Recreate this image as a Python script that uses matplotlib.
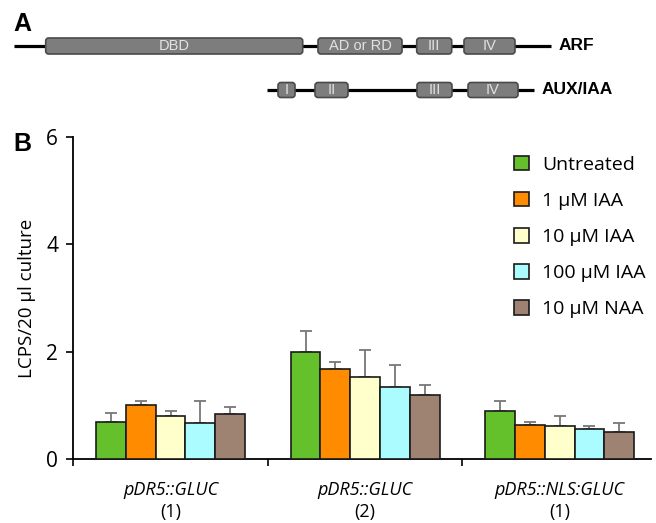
import matplotlib
matplotlib.use("Agg")
import matplotlib.pyplot as plt
from matplotlib.patches import FancyBboxPatch
import numpy as np

# ---------------- data ----------------
groups = ["pDR5::GLUC", "pDR5::GLUC", "pDR5::NLS:GLUC"]
group_sub = ["(1)", "(2)", "(1)"]
treatments = ["Untreated", "1 μM IAA", "10 μM IAA", "100 μM IAA", "10 μM NAA"]
colors = ["#64C12B", "#FF8C00", "#FFFFCC", "#AAFCFF", "#9E8272"]

untreated = [0.69, 2.00, 0.89]
iaa1 = [1.00, 1.67, 0.64]
iaa10 = [0.81, 1.53, 0.615]
iaa100 = [0.665, 1.335, 0.56]
naa10 = [0.83, 1.19, 0.50]

untreated_top = [0.86, 2.39, 1.09]
iaa1_top = [1.09, 1.81, 0.69]
iaa10_top = [0.89, 2.03, 0.81]
iaa100_top = [1.09, 1.75, 0.61]
naa10_top = [0.97, 1.385, 0.67]

yticks = [0, 2, 4, 6]

# Panel A domain map (positions along protein, drawing scale)
arf_span = (14, 551)
arf_domains = [(45.7, 302.7, "DBD"), (318, 402, "AD or RD"), (416.7, 451.7, "III"), (464, 515, "IV")]
aux_span = (266.7, 534)
aux_domains = [(278, 295, "I"), (315, 348, "II"), (417, 452, "III"), (468, 518, "IV")]

values = [untreated, iaa1, iaa10, iaa100, naa10]
tops = [untreated_top, iaa1_top, iaa10_top, iaa100_top, naa10_top]

W, H = 656, 523
fig = plt.figure(figsize=(W / 100, H / 100), dpi=100)

sans = ["Open Sans", "DejaVu Sans"]
arial = ["Liberation Sans", "DejaVu Sans"]

# ---------------- Panel A ----------------
axa = fig.add_axes([0, 1 - 110 / H, 1, 110 / H])
axa.set_xlim(0, W)
axa.set_ylim(110, 0)
axa.axis("off")

def draw_row(ax, span, domains, yc, h, name):
    ax.plot(span, [yc, yc], color="black", lw=2.3, solid_capstyle="butt", zorder=1)
    for x0, x1, lab in domains:
        p = FancyBboxPatch((x0, yc - h / 2), x1 - x0, h,
                           boxstyle="round,pad=0,rounding_size=3",
                           fc="#7d7d7d", ec="#4a4a4a", lw=1.2, zorder=2,
                           mutation_aspect=1)
        ax.add_patch(p)
        ax.text((x0 + x1) / 2, yc + 0.5, lab, ha="center", va="center",
                color="#e2e2e2", fontsize=10.5, family=arial, zorder=3)
    ax.text(span[1] + 8, yc, name, ha="left", va="center", fontsize=12.5,
            fontweight="bold", family=arial)

draw_row(axa, arf_span, arf_domains, 46, 16, "ARF")
draw_row(axa, aux_span, aux_domains, 90, 15, "AUX/IAA")

fig.text(13 / W, 1 - 31 / H, "A", fontsize=18, fontweight="bold", family=arial,
         ha="left", va="baseline")
fig.text(13 / W, 1 - 151 / H, "B", fontsize=18, fontweight="bold", family=arial,
         ha="left", va="baseline")

# ---------------- Panel B ----------------
left, right, bottom, top = 73.3, 650.7, 459, 137
ax = fig.add_axes([left / W, (H - bottom) / H, (right - left) / W, (bottom - top) / H])

x = np.arange(len(groups))
bw = 0.153
for i, (vals, tp, col, lab) in enumerate(zip(values, tops, colors, treatments)):
    xs = x + (i - 2) * bw
    vals = np.array(vals)
    err = np.array(tp) - vals
    ax.bar(xs, vals, width=bw, color=col, edgecolor="#1a1a1a", linewidth=1.2,
           label=lab, zorder=3)
    ax.errorbar(xs, vals, yerr=[np.zeros_like(err), err], fmt="none",
                ecolor="#777777", elinewidth=1.3, capsize=4, capthick=1.3, zorder=2)

ax.set_xlim(-0.5, 2.468)
ax.set_ylim(0, 6)
ax.set_yticks(yticks)
ax.set_yticklabels([str(t) for t in yticks], fontsize=15, family=sans)
ax.set_xticks([-0.5, 0.5, 1.5])
ax.set_xticklabels([])
ax.tick_params(axis="both", direction="out", length=5, width=1.2, color="black")
ax.tick_params(axis="y", pad=6)
for s in ["top", "right"]:
    ax.spines[s].set_visible(False)
for s in ["left", "bottom"]:
    ax.spines[s].set_linewidth(1.3)

for xi, g, sub in zip(x, groups, group_sub):
    ax.annotate(g, xy=(xi, 0), xycoords=("data", "axes fraction"),
                xytext=(0, -31), textcoords="offset pixels", ha="center", va="center",
                fontsize=13, style="italic", family=sans)
    ax.annotate(sub, xy=(xi, 0), xycoords=("data", "axes fraction"),
                xytext=(0, -53), textcoords="offset pixels", ha="center", va="center",
                fontsize=13, family=sans)

ax.set_ylabel("LCPS/20 μl culture", fontsize=13.5, family=sans, labelpad=7)

leg = ax.legend(loc="upper left", bbox_to_anchor=((514 - left) / (right - left), 1 - (156 - top) / (bottom - top)),
                frameon=False, handlelength=0.75, handleheight=0.75, handletextpad=0.7,
                labelspacing=0.93, borderaxespad=0, borderpad=0,
                prop={"family": sans, "size": 14})

fig.savefig("out.png", dpi=100)
